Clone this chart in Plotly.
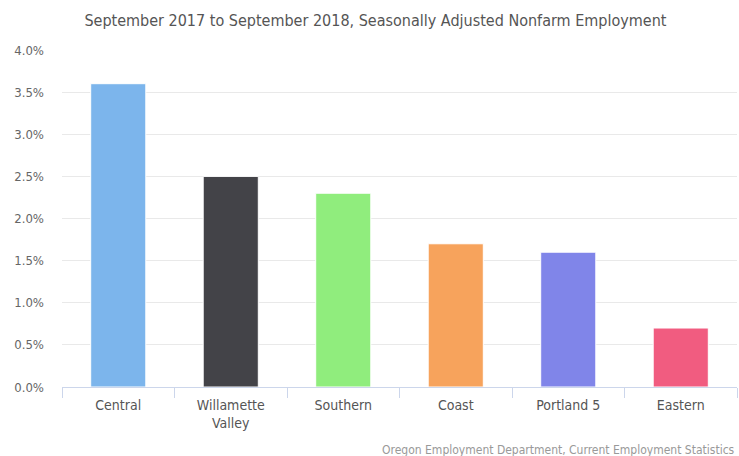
import plotly.graph_objects as go

categories = ["Central", "Willamette<br>Valley", "Southern", "Coast", "Portland 5", "Eastern"]
values = [3.6, 2.5, 2.3, 1.7, 1.6, 0.7]
colors = ["#7cb5ec", "#434348", "#90ed7d", "#f7a35c", "#8085e9", "#f15c80"]
y_ticks = [0, 0.5, 1.0, 1.5, 2.0, 2.5, 3.0, 3.5, 4.0]
y_tick_labels = [f"{v:.1f}%" for v in y_ticks]

font = "DejaVu Sans Condensed, Liberation Sans, sans-serif"

fig = go.Figure(go.Bar(
    x=categories, y=values,
    marker=dict(color=colors, line=dict(color="white", width=1)),
    hoverinfo="x+y",
))

fig.update_layout(
    width=739, height=456,
    margin=dict(l=62, r=2, t=50, b=69, autoexpand=False),
    paper_bgcolor="white", plot_bgcolor="white",
    bargap=0.51,
    showlegend=False,
    font=dict(family=font, color="#666666"),
    title=dict(text="September 2017 to September 2018, Seasonally Adjusted Nonfarm Employment",
               x=0.508, xanchor="center", y=0.956, yanchor="middle",
               font=dict(size=16, color="#555555", family=font)),
    annotations=[dict(text="Oregon Employment Department, Current Employment Statistics",
                      xref="paper", yref="paper", x=1, y=-0.187, xanchor="right", yanchor="middle",
                      showarrow=False, font=dict(size=12, color="#999999", family=font))],
)
fig.update_xaxes(
    type="category", showline=True, linecolor="#ccd6eb", linewidth=1,
    ticks="outside", tickson="boundaries", ticklen=10, tickcolor="#ccd6eb",
    tickfont=dict(size=14, color="#555555"), showgrid=False, ticklabelstandoff=5,
)
fig.update_yaxes(
    range=[0, 4.0], tickvals=y_ticks, ticktext=y_tick_labels,
    showgrid=True, gridcolor="#e9e9e9", gridwidth=1, zeroline=False,
    tickfont=dict(size=13, color="#666666"), ticks="", ticklabelstandoff=17,
)

fig.write_html("out.html", config={"displayModeBar": False},
               post_script="document.body.style.margin='0px';")
